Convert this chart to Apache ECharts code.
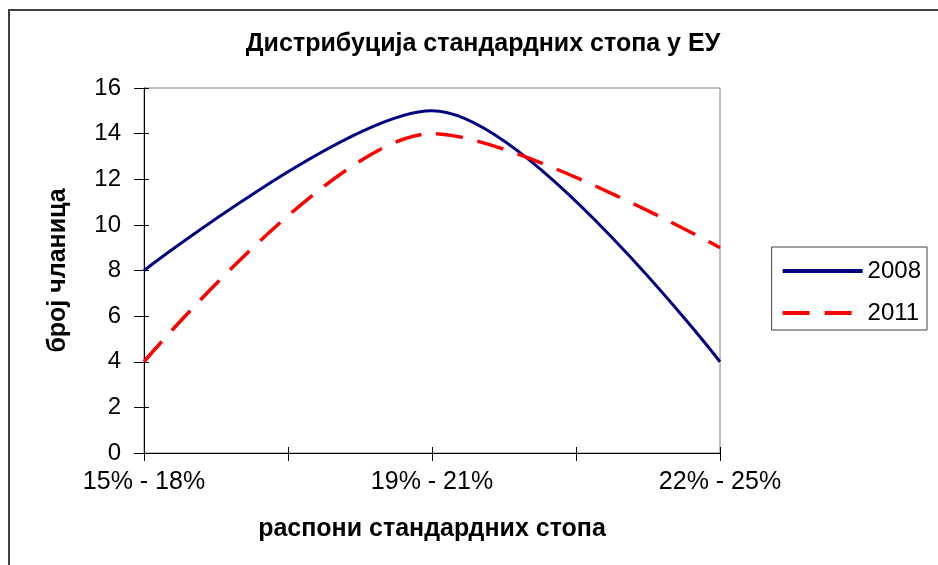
<!DOCTYPE html>
<html>
<head>
<meta charset="utf-8">
<script src="https://cdn.jsdelivr.net/npm/echarts@6/dist/echarts.min.js"></script>
<style>
  html, body { margin: 0; padding: 0; background: #fff; }
  #chart { width: 938px; height: 565px; }
  #frame { position: absolute; left: 8px; top: 9px; width: 940px; height: 570px; border: 2px solid #404040; box-sizing: border-box; pointer-events: none; }
</style>
</head>
<body>
<div id="chart"></div>
<div id="frame"></div>
<script>
// категорије (распони стопа) и вредности по годинама
var categories = ['15% - 18%', '19% - 21%', '22% - 25%'];
var data2008 = [8, 15, 4];
var data2011 = [4, 14, 9];
var yTicks = [0, 2, 4, 6, 8, 10, 12, 14, 16];

function pts(arr) {
  return arr.map(function (v, i) { return [i, v]; });
}

var font = 'Liberation Sans, Arial, sans-serif';
var chart = echarts.init(document.getElementById('chart'));

var option = {
  animation: false,
  title: {
    text: 'Дистрибуција стандардних стопа у ЕУ',
    left: 478, top: 27, textAlign: 'center',
    textStyle: { fontFamily: font, fontSize: 25, fontWeight: 'bold', color: '#000' }
  },
  legend: {
    orient: 'vertical',
    right: 11, top: 247,
    padding: [12, 6, 5, 9],
    itemGap: 18,
    itemWidth: 80, itemHeight: 18,
    borderColor: '#404040', borderWidth: 1,
    itemStyle: { opacity: 0 },
    lineStyle: { width: 4 },
    textStyle: { fontFamily: font, fontSize: 24, color: '#000' },
    data: ['2008', '2011']
  },
  grid: { left: 144, right: 218, top: 88, bottom: 112, show: true, borderColor: '#808080', borderWidth: 1 },
  xAxis: [{
    type: 'value', min: 0, max: categories.length - 1, interval: 0.5,
    name: 'распони стандардних стопа',
    nameLocation: 'middle', nameGap: 64,
    nameTextStyle: { fontFamily: font, fontSize: 25, fontWeight: 'bold', color: '#000' },
    axisLine: { lineStyle: { color: '#000', width: 1 } },
    axisTick: { length: 8, lineStyle: { color: '#000' } },
    splitLine: { show: false },
    axisLabel: {
      fontFamily: font, fontSize: 25, color: '#000', margin: 17,
      formatter: function (v) { return Number.isInteger(v) ? categories[v] : ''; }
    }
  }, {
    type: 'value', min: 0, max: categories.length - 1, interval: 0.5,
    position: 'bottom',
    axisLine: { show: false },
    axisTick: { inside: true, length: 6, lineStyle: { color: '#000' } },
    axisLabel: { show: false },
    splitLine: { show: false }
  }],
  yAxis: [{
    type: 'value', min: yTicks[0], max: yTicks[yTicks.length - 1], interval: 2,
    name: 'број чланица',
    nameLocation: 'middle', nameGap: 73,
    nameTextStyle: { fontFamily: font, fontSize: 25, fontWeight: 'bold', color: '#000' },
    axisLine: { show: true, lineStyle: { color: '#000', width: 1 } },
    axisTick: { show: true, length: 10, lineStyle: { color: '#000' } },
    splitLine: { show: false },
    axisLabel: { fontFamily: font, fontSize: 24, color: '#000', margin: 23 }
  }, {
    type: 'value', min: yTicks[0], max: yTicks[yTicks.length - 1], interval: 2,
    position: 'left',
    axisLine: { show: false },
    axisTick: { show: true, inside: true, length: 5, lineStyle: { color: '#000' } },
    axisLabel: { show: false },
    splitLine: { show: false }
  }],
  series: [{
    name: '2008', type: 'line', smooth: 0.3, symbol: 'none',
    data: pts(data2008),
    color: '#000080',
    lineStyle: { color: '#000080', width: 3 }
  }, {
    name: '2011', type: 'line', smooth: 0.3, symbol: 'none',
    data: pts(data2011),
    color: '#ff0000',
    lineStyle: { color: '#ff0000', width: 3.5, type: [27, 15] }
  }]
};

chart.setOption(option);
</script>
</body>
</html>
